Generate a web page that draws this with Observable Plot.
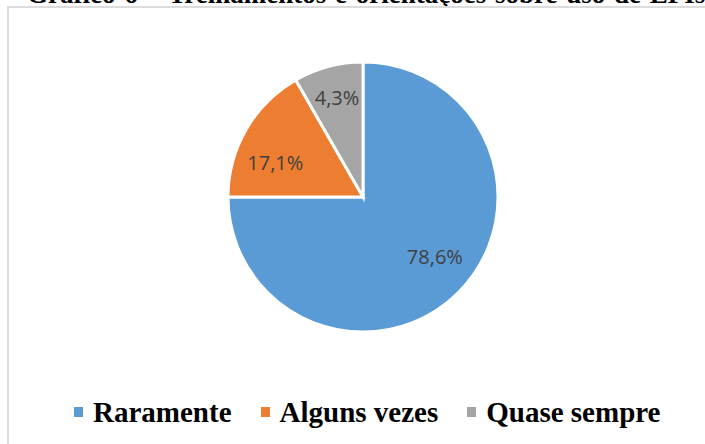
<!DOCTYPE html>
<html>
<head>
<meta charset="utf-8">
<script src="https://cdn.jsdelivr.net/npm/d3@7"></script>
<script src="https://cdn.jsdelivr.net/npm/@observablehq/plot@0.6"></script>
<style>
  html, body { margin: 0; padding: 0; background: #fff; width: 705px; height: 444px; overflow: hidden; position: relative; }
  #title { position: absolute; left: 27px; top: -19px; font: bold 27px "Liberation Serif", "Times New Roman", serif; white-space: nowrap; color: #000; line-height: 27px; word-spacing: 2px; }
  #frame { position: absolute; left: 7px; top: 6px; width: 800px; height: 500px; border: 2px solid #dcdcdc; box-sizing: border-box; background: #fff; }
  #chart { position: absolute; left: 0; top: 0; }
  #legend { position: absolute; left: 74px; top: 398px; height: 29px; display: flex; align-items: center; font: bold 29px "Liberation Serif", "Times New Roman", serif; line-height: 29px; color: #000; white-space: nowrap; }
  .item { display: flex; align-items: center; margin-right: 29px; }
  .sw { width: 9px; height: 10px; margin-right: 10px; margin-top: -2px; }
</style>
</head>
<body>
<div id="title">Gráfico 6 – Treinamentos e orientações sobre uso de EPIs</div>
<div id="frame"></div>
<div id="chart"></div>
<div id="legend"></div>
<script>
// ---- data ----
const categories = ["Raramente", "Alguns vezes", "Quase sempre"];
const shares = [75, 16.7, 8.3];            // slice sizes as drawn
const labels = ["78,6%", "17,1%", "4,3%"];  // printed data labels
const colors = ["#5b9bd5", "#ed7d31", "#a5a5a5"];

// ---- layout ----
const pie = d3.pie().sort(null).value(d => d)(shares);
const labelTweak = [{da: -5, r: 0.69}, {da: -9, r: 0.70}, {da: 0, r: 0.76}];
const slices = pie.map((p, i) => {
  const mid = (p.startAngle + p.endAngle) / 2 + labelTweak[i].da * Math.PI / 180;
  const r = labelTweak[i].r;
  return {
    start: p.startAngle, end: p.endAngle,
    category: categories[i], label: labels[i], color: colors[i],
    lx: r * Math.sin(mid), ly: r * Math.cos(mid)
  };
});

const W = 705, H = 390;
const chart = Plot.plot({
  width: W, height: H,
  marginLeft: 228, marginRight: 207, marginTop: 62, marginBottom: 58,
  x: {domain: [-1, 1], axis: null},
  y: {domain: [-1, 1], axis: null},
  style: {background: "transparent", overflow: "visible"},
  marks: [
    (index, scales, values, dimensions) => {
      const {width, height, marginLeft, marginRight, marginTop, marginBottom} = dimensions;
      const cx = marginLeft + (width - marginLeft - marginRight) / 2;
      const cy = marginTop + (height - marginTop - marginBottom) / 2;
      const R = (width - marginLeft - marginRight) / 2;
      const arc = d3.arc().innerRadius(0).outerRadius(R);
      const g = d3.create("svg:g").attr("transform", `translate(${cx},${cy})`);
      g.selectAll("path")
        .data(slices)
        .join("path")
        .attr("d", d => arc({startAngle: d.start, endAngle: d.end}))
        .attr("fill", d => d.color)
        .attr("stroke", "#fff")
        .attr("stroke-width", 3)
        .attr("stroke-linejoin", "miter");
      return g.node();
    },
    Plot.text(slices, {
      x: "lx", y: "ly", text: "label",
      fill: "#404040", fontSize: 20, fontFamily: "Open Sans",
      textAnchor: "middle", lineAnchor: "middle"
    })
  ]
});
document.getElementById("chart").appendChild(chart);

// ---- legend ----
const legend = d3.select("#legend");
categories.forEach((c, i) => {
  const it = legend.append("div").attr("class", "item");
  it.append("div").attr("class", "sw").style("background", colors[i]);
  it.append("span").text(c);
});
</script>
</body>
</html>
